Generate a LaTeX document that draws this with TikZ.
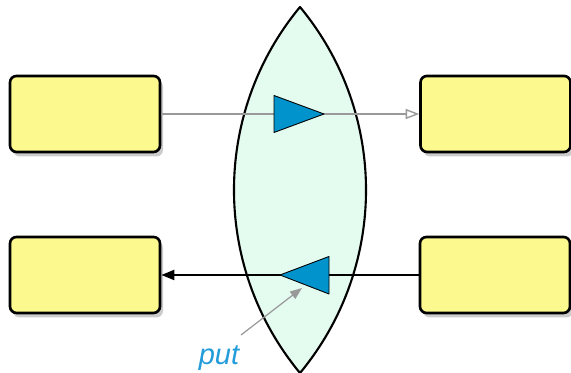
\documentclass[tikz,border=0pt]{standalone}
\usepackage{fontspec}
\setsansfont{Liberation Sans}
\usetikzlibrary{arrows.meta,shadows}
\definecolor{boxFill}{HTML}{FCF98E}
\definecolor{lensFill}{HTML}{E4FBF0}
\definecolor{flowBlue}{HTML}{0093CC}
\definecolor{labelBlue}{HTML}{239CDA}
\definecolor{wireGray}{HTML}{999999}

\begin{document}
\begin{tikzpicture}[
    line join=round,
    block/.style={draw, line width=1.5pt, rounded corners=0.13cm, fill=boxFill,
      minimum width=3cm, minimum height=1.52cm,
      drop shadow={opacity=0.4, shadow xshift=0.6mm, shadow yshift=-0.9mm}},
    valve/.style={draw, line width=0.5pt, fill=flowBlue},
  ]
  \useasboundingbox (0,0) rectangle (11.42,7.46);

  % Lens in the middle
  \draw[line width=1.2pt, fill=lensFill] (6,7.32)
    arc[start angle=39.67, end angle=-39.67, radius=5.734]
    arc[start angle=219.67, end angle=140.33, radius=5.734] -- cycle;

  % Boxes
  \node[block] (inL)  at (1.7,5.18) {};
  \node[block] (inR)  at (9.91,5.18) {};
  \node[block] (outL) at (1.7,1.96) {};
  \node[block] (outR) at (9.9,1.96) {};

  % Wires through the lens
  \draw[wireGray, line width=0.8pt, -{Triangle[open, length=0.27cm, width=0.2cm]}]
    (inL.east) -- (inR.west);
  \draw[line width=1.1pt, -{Triangle[length=0.26cm, width=0.2cm]}]
    (outR.west) -- (outL.east);

  % Direction marks
  \draw[valve] (5.48,5.55) -- (6.48,5.18) -- (5.48,4.81) -- cycle;
  \draw[valve] (6.58,2.33) -- (5.6,1.96) -- (6.58,1.58) -- cycle;
  \coordinate (back) at (6.04,1.70);

  % Label
  \node[font=\fontsize{16.5}{18}\selectfont\sffamily\itshape, text=labelBlue]
    (put) at (4.38,0.30) {put};
  \coordinate (tail) at (4.82,0.76);
  \draw[wireGray, line width=0.7pt, -{Triangle[length=0.24cm, width=0.18cm]}]
    (tail) -- (back);
\end{tikzpicture}
\end{document}
